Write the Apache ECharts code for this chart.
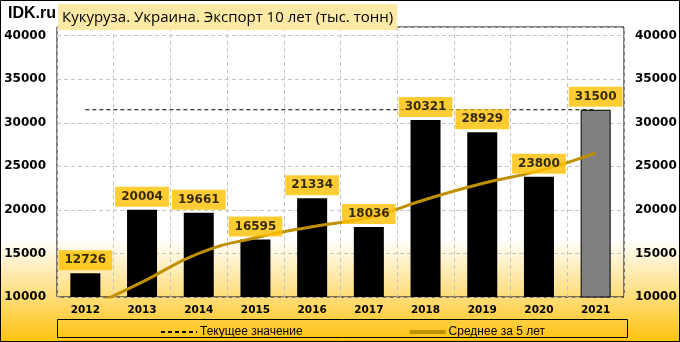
<!DOCTYPE html>
<html><head><meta charset="utf-8">
<script src="https://cdn.jsdelivr.net/npm/echarts@6/dist/echarts.min.js"></script>
<style>html,body{margin:0;padding:0;}#c{width:680px;height:342px;}</style>
</head><body><div id="c"></div>
<script>
const categories = ['2012','2013','2014','2015','2016','2017','2018','2019','2020','2021'];
const exportValues = [12726, 20004, 19661, 16595, 21334, 18036, 30321, 28929, 23800, 31500];
const currentValue = [31500, 31500, 31500, 31500, 31500, 31500, 31500, 31500, 31500, 31500];
const avg5Values = [8600, 11700, 15000, 16800, 18070, 19130, 21190, 23040, 24480, 26520];
const yTicks = [10000, 15000, 20000, 25000, 30000, 35000, 40000];

const chart = echarts.init(document.getElementById('c'), null, {renderer: 'canvas'});
const gridLine = {show: true, lineStyle: {color: '#c4c4c4', type: [4, 3], width: 1}};
const yLabel = {fontFamily: 'DejaVu Sans', fontWeight: 'bold', fontSize: 12, color: '#000', showMaxLabel: false, margin: 11,
  formatter: v => String(v)};
const lastIdx = exportValues.length - 1;
chart.setOption({
  animation: false,
  backgroundColor: {type: 'linear', x: 0, y: 0, x2: 0, y2: 1, colorStops: [
    {offset: 0, color: '#ffffff'}, {offset: 0.7, color: '#ffffff'}, {offset: 1, color: '#ffc20e'}]},
  title: [
    {text: 'IDK.ru', left: 8, top: 6, padding: 0,
     textStyle: {fontFamily: 'Liberation Sans', fontWeight: 'bold', fontSize: 16, color: '#000'}},
    {text: 'Кукуруза. Украина. Экспорт 10 лет (тыс. тонн)', left: 58, top: 4,
     padding: [5, 4, 4, 4], backgroundColor: '#fde9a6',
     textStyle: {fontFamily: 'Open Sans', fontWeight: 'normal', fontSize: 15, color: '#000', lineHeight: 17}}
  ],
  grid: {left: 57, right: 56, top: 27, bottom: 45, show: true, borderColor: '#000', borderWidth: 1, backgroundColor: 'transparent'},
  legend: {
    data: ['Текущее значение', {name: 'Среднее за 5 лет', lineStyle: {width: 4}}],
    left: 155, top: 321, itemGap: 105, itemWidth: 36, itemHeight: 10,
    itemStyle: {opacity: 0},
    textStyle: {fontFamily: 'Liberation Sans', fontSize: 12, color: '#000', padding: [0, 0, 0, -2]}
  },
  xAxis: {
    type: 'category', data: categories, boundaryGap: true,
    axisLine: {show: false}, axisTick: {show: false},
    splitLine: gridLine,
    axisLabel: {fontFamily: 'DejaVu Sans', fontWeight: 'bold', fontSize: 10.5, color: '#000', margin: 8}
  },
  yAxis: [
    {type: 'value', min: yTicks[0], max: 41000, interval: 5000, position: 'left',
     axisLine: {show: false}, axisTick: {show: false}, splitLine: gridLine, axisLabel: yLabel},
    {type: 'value', min: yTicks[0], max: 41000, interval: 5000, position: 'right',
     axisLine: {show: false}, axisTick: {show: false}, splitLine: {show: false}, axisLabel: yLabel}
  ],
  series: [
    {name: 'Экспорт', type: 'bar', barWidth: 30, z: 2,
     data: exportValues.map((v, i) => i === lastIdx
       ? {value: v, itemStyle: {color: '#808080', borderColor: '#000', borderWidth: 1}}
       : {value: v, itemStyle: {color: '#000'}})},
    {name: 'Текущее значение', type: 'line', data: currentValue, symbol: 'none', z: 3,
     lineStyle: {color: '#000', width: 1, type: [4, 3]}, itemStyle: {color: '#000'}},
    {name: 'Среднее за 5 лет', type: 'line', data: avg5Values, symbol: 'none', smooth: true, z: 4,
     lineStyle: {color: '#bf9000', width: 3}, itemStyle: {color: '#bf9000'}},
    {name: 'labels', type: 'scatter', data: exportValues, symbolSize: 0, z: 10, silent: true,
     label: {show: true, position: 'top', distance: 3, backgroundColor: '#ffc000',
       padding: [4, 6, 4, 6], fontFamily: 'DejaVu Sans', fontWeight: 'bold', fontSize: 12, color: '#000'}}
  ],
  graphic: [
    {type: 'rect', shape: {x: 57.5, y: 319.5, width: 570, height: 18}, style: {fill: 'none', stroke: '#000', lineWidth: 1}, silent: true},
    {type: 'rect', shape: {x: 0.5, y: 0.5, width: 679, height: 341}, style: {fill: 'none', stroke: '#000', lineWidth: 1}, silent: true}
  ]
});
</script></body></html>
